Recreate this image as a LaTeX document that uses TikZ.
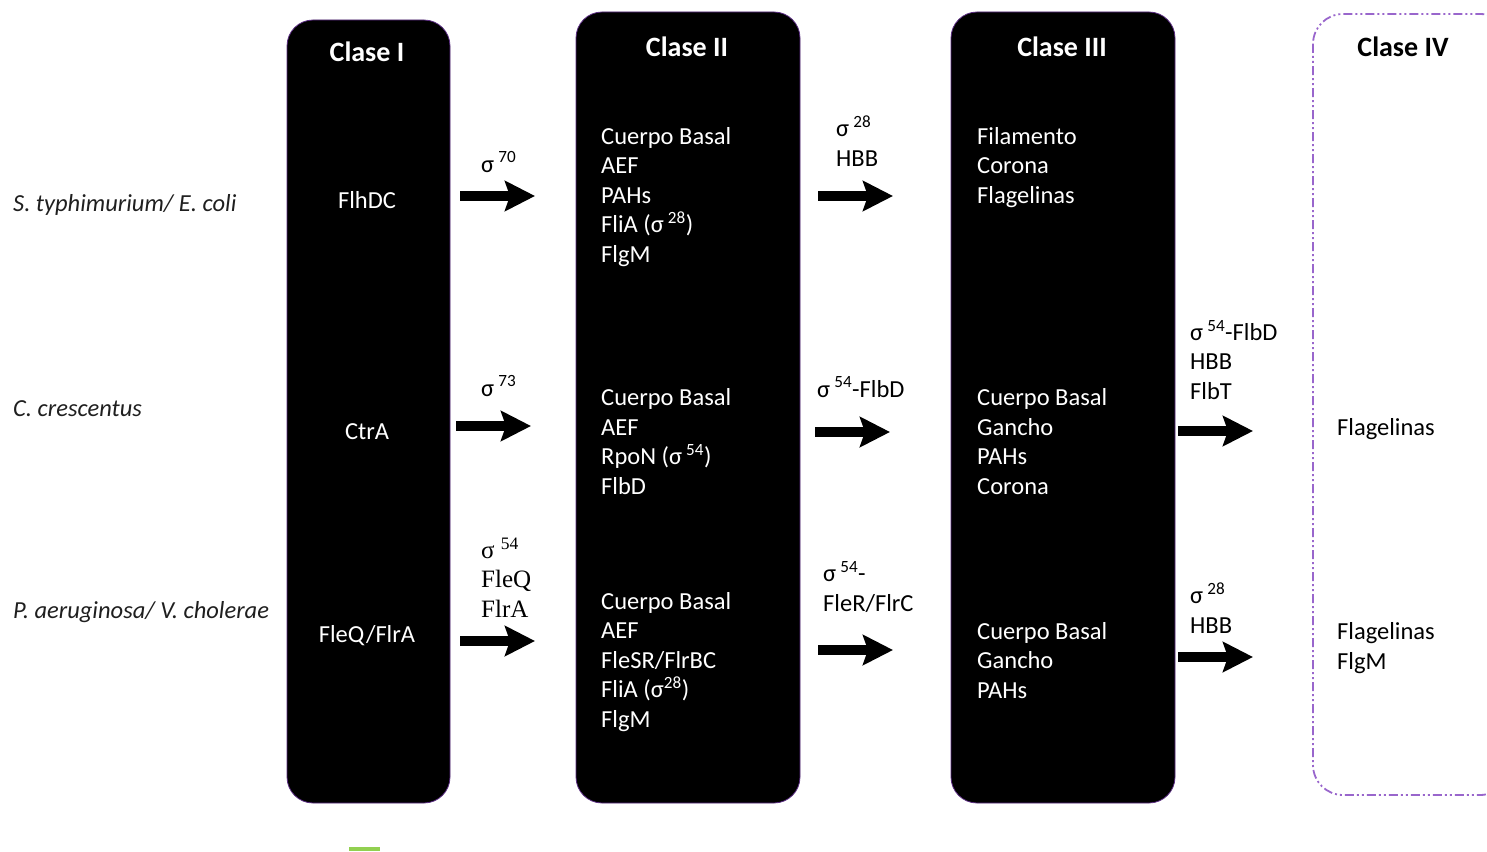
\documentclass[tikz,border=0pt]{standalone}
\usepackage{fontspec}
\setmainfont{Carlito}
\newfontfamily\timesf{Liberation Serif}
\usetikzlibrary{arrows.meta}
\definecolor{boxpurple}{HTML}{5B2C83}
\definecolor{dashpurple}{HTML}{9966CC}
\definecolor{lgreen}{HTML}{92D050}
\tikzset{
  colbox/.style={draw=boxpurple, line width=0.8pt, fill=black, rounded corners=26pt, inner sep=0pt},
  coltitle/.style={text=white, font=\fontsize{28}{32}\selectfont\bfseries, inner sep=0pt},
  wtext/.style={text=white, font=\fontsize{24.5}{29.4}\selectfont, align=left, inner sep=0pt, anchor=base west},
  ctext/.style={text=white, font=\fontsize{24.5}{29.4}\selectfont, inner sep=0pt},
  ktext/.style={text=black, font=\fontsize{24.5}{29.4}\selectfont, align=left, inner sep=0pt, anchor=base west},
  ttext/.style={text=black, font=\timesf\fontsize{25}{29.4}\selectfont, align=left, inner sep=0pt, anchor=base west},
  species/.style={text=black!88, font=\fontsize{24.5}{28}\selectfont\itshape, inner sep=0pt, anchor=base west},
  bigarrow/.style={line width=10pt, -{Stealth[length=30pt,width=30pt,inset=5pt]}},
}
\newcommand{\sig}[1]{σ\,\textsuperscript{#1}}
\begin{document}
\begin{tikzpicture}[x=1pt,y=-1pt]
\useasboundingbox (0,0) rectangle (1487,851);

% column boxes
\node[colbox, minimum width=163pt, minimum height=783pt] (c1) at (368.5,411.5) {};
\node[colbox, minimum width=224pt, minimum height=791pt] (c2) at (688,407.5) {};
\node[colbox, minimum width=224pt, minimum height=791pt] (c3) at (1063,407.5) {};
\draw[dashpurple, line width=1.8pt, dash pattern=on 9pt off 3pt on 2pt off 3pt on 2pt off 3pt, rounded corners=30pt] (1313,14) rectangle (1510,795);

% titles
\node[coltitle] (t1) at (367,52) {Clase I};
\node[coltitle] (t2) at (687,47) {Clase II};
\node[coltitle] (t3) at (1062,47) {Clase III};
\node[coltitle, text=black] (t4) at (1403,47) {Clase IV};

% species
\node[species] (s1) at (13,211) {S. typhimurium/ E. coli};
\node[species] (s2) at (13,416) {C. crescentus};
\node[species] (s3) at (13,618) {P. aeruginosa/ V. cholerae};

% class I
\node[ctext] (r1) at (367,200) {FlhDC};
\node[ctext] (r2) at (367,432) {CtrA};
\node[ctext] (r3) at (367,636) {FleQ/FlrA};

% class II (anchor = baseline of last line)
\node[wtext] (g21) at (601,262) {Cuerpo Basal\\AEF\\PAHs\\FliA (\sig{28})\\FlgM};
\node[wtext] (g22) at (601,494) {Cuerpo Basal\\AEF\\RpoN (\sig{54})\\FlbD};
\node[wtext] (g23) at (601,727) {Cuerpo Basal\\AEF\\FleSR/FlrBC\\FliA (σ\textsuperscript{28})\\FlgM};

% class III
\node[wtext] (g31) at (977,203) {Filamento\\Corona\\Flagelinas};
\node[wtext] (g32) at (977,494) {Cuerpo Basal\\Gancho\\PAHs\\Corona};
\node[wtext] (g33) at (977,698) {Cuerpo Basal\\Gancho\\PAHs};

% class IV
\node[ktext] (g41) at (1337,435) {Flagelinas};
\node[ktext] (g42) at (1337,669) {Flagelinas\\FlgM};

% arrow labels
\node[ktext] (l1) at (481,172) {\sig{70}};
\node[ktext] (l2) at (481,396) {\sig{73}};
\node[ttext] (l3) at (481,617) {σ \textsuperscript{54}\\FleQ\\FlrA};
\node[ktext] (l4) at (836,166) {\sig{28}\\HBB};
\node[ktext] (l5) at (817,397) {\sig{54}-FlbD};
\node[ktext] (l6) at (823,611) {\sig{54}-\\FleR/FlrC};
\node[ktext] (l7) at (1190,399) {\sig{54}-FlbD\\HBB\\FlbT};
\node[ktext] (l8) at (1190,633) {\sig{28}\\HBB};

% arrows
\coordinate (a1s) at (460,196); \coordinate (a1e) at (535,196);
\coordinate (a2s) at (456,426); \coordinate (a2e) at (531,426);
\coordinate (a3s) at (460,641); \coordinate (a3e) at (535,641);
\coordinate (b1s) at (818,196); \coordinate (b1e) at (893,196);
\coordinate (b2s) at (815,432); \coordinate (b2e) at (890,432);
\coordinate (b3s) at (818,650); \coordinate (b3e) at (893,650);
\coordinate (d1s) at (1178,431); \coordinate (d1e) at (1253,431);
\coordinate (d2s) at (1178,657); \coordinate (d2e) at (1253,657);
\foreach \p in {a1,a2,a3,b1,b2,b3,d1,d2}{\draw[bigarrow] (\p s) -- (\p e);}

% green mark
\draw[lgreen, line width=4pt] (349,849) -- (380,849);
\end{tikzpicture}
\end{document}
